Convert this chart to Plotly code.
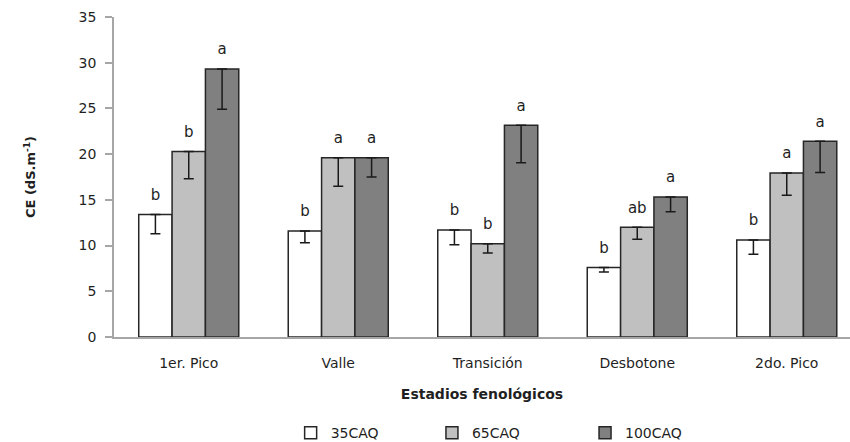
import plotly.graph_objects as go

# Phenological stages and electrical conductivity (CE) per irrigation treatment
stages = ["1er. Pico", "Valle", "Transición", "Desbotone", "2do. Pico"]
series_names = ["35CAQ", "65CAQ", "100CAQ"]

ce_35 = [13.4, 11.6, 11.7, 7.6, 10.6]
ce_65 = [20.3, 19.6, 10.2, 12.0, 17.95]
ce_100 = [29.3, 19.6, 23.15, 15.3, 21.4]

err_35 = [2.1, 1.3, 1.6, 0.5, 1.55]
err_65 = [3.0, 3.1, 1.0, 1.3, 2.45]
err_100 = [4.4, 2.1, 4.1, 1.6, 3.4]

letters_35 = ["b", "b", "b", "b", "b"]
letters_65 = ["b", "a", "b", "ab", "a"]
letters_100 = ["a", "a", "a", "a", "a"]

values = [ce_35, ce_65, ce_100]
errors = [err_35, err_65, err_100]
letters = [letters_35, letters_65, letters_100]
fills = ["#ffffff", "#c0c0c0", "#808080"]
legend_ids = ["legend", "legend2", "legend3"]

FONT = "DejaVu Sans"
TEXT = "#1f1f1f"
AXIS = "#a6a6a6"

fig = go.Figure()

for i, name in enumerate(series_names):
    fig.add_trace(go.Bar(
        x=stages, y=values[i], name=name,
        offsetgroup=str(i),
        marker=dict(color=fills[i], line=dict(color="#262626", width=1.5)),
        error_y=dict(type="data", symmetric=False,
                     array=[0] * len(stages), arrayminus=errors[i],
                     color="#1a1a1a", thickness=1.5, width=5),
        legend=legend_ids[i],
    ))

# significance letters above each bar
for i in range(len(series_names)):
    fig.add_trace(go.Scatter(
        x=stages, y=values[i], mode="markers+text",
        offsetgroup=str(i),
        text=letters[i], textposition="top center",
        textfont=dict(family=FONT, size=15, color=TEXT),
        marker=dict(size=16, opacity=0),
        showlegend=False, hoverinfo="skip", cliponaxis=False,
    ))

legend_common = dict(
    orientation="h", yref="container", yanchor="middle", y=0.02,
    xanchor="left",
    font=dict(family=FONT, size=14, color=TEXT),
    bgcolor="rgba(0,0,0,0)", itemwidth=30,
)

fig.update_layout(
    width=850, height=442,
    margin=dict(l=114, r=0, t=17, b=105),
    paper_bgcolor="white", plot_bgcolor="white",
    barmode="group", bargap=0.331, bargroupgap=0,
    scattermode="group", scattergap=0.331,
    font=dict(family=FONT, color=TEXT),
    legend=dict(x=0.24, **legend_common),
    legend2=dict(x=0.432, **legend_common),
    legend3=dict(x=0.64, **legend_common),
)

fig.update_xaxes(
    range=[-0.5, 4.423], showline=True, linecolor=AXIS, linewidth=1.5,
    ticks="", showgrid=False, zeroline=False, automargin=False,
    tickfont=dict(family=FONT, size=14, color=TEXT),
    ticklabelstandoff=12,
    title=dict(text="<b>Estadios fenológicos</b>",
               font=dict(family=FONT, size=14, color=TEXT), standoff=20),
)

fig.update_yaxes(
    range=[0, 35], dtick=5, showline=True, linecolor=AXIS, linewidth=1.5,
    ticks="outside", ticklen=7, tickcolor=AXIS, tickwidth=1.5,
    showgrid=False, zeroline=False, automargin=False,
    tickfont=dict(family=FONT, size=14, color=TEXT),
    ticklabelstandoff=6,
    title=dict(text="<b>CE (dS.m<sup>-1</sup>)</b>",
               font=dict(family=FONT, size=13, color=TEXT), standoff=40),
)

fig.write_html("out.html")
